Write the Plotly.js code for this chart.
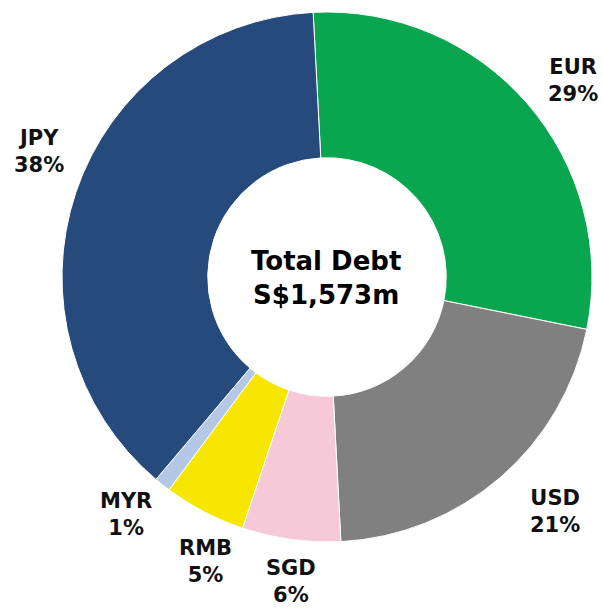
<!DOCTYPE html>
<html>
<head>
<meta charset="utf-8">
<script src="https://cdn.plot.ly/plotly-3.0.1.min.js"></script>
<style>html,body{margin:0;padding:0;background:#fff;}#chart{width:603px;height:609px;}</style>
</head>
<body>
<div id="chart"></div>
<script>
const currencies = ["EUR", "USD", "SGD", "RMB", "MYR", "JPY"];
const shares = [29, 21, 6, 5, 1, 38];
const sliceColors = ["#0aa64f", "#808080", "#f6c9d9", "#f7e600", "#b4c7e4", "#264a7b"];
const centerLines = ["Total Debt", "S$1,573m"];

const labelPos = {
  EUR: [573, 80], USD: [555, 511], SGD: [291, 581],
  RMB: [205, 561], MYR: [126, 514], JPY: [39, 151]
};
const W = 603, H = 609;
const font = "'DejaVu Sans', sans-serif";

const annotations = currencies.map((c, i) => ({
  x: labelPos[c][0] / W, y: 1 - labelPos[c][1] / H,
  xref: "paper", yref: "paper", showarrow: false,
  text: "<b>" + c + "<br>" + shares[i] + "%</b>",
  font: {family: font, size: 21, color: "#111"},
  align: "center", xanchor: "center", yanchor: "middle"
}));
annotations.push({
  x: 326 / W, y: 1 - 278 / H, xref: "paper", yref: "paper", showarrow: false,
  text: "<b>" + centerLines.join("<br>") + "</b>",
  font: {family: font, size: 26, color: "#000"},
  align: "center", xanchor: "center", yanchor: "middle"
});

Plotly.newPlot("chart", [{
  type: "pie",
  labels: currencies,
  values: shares,
  marker: {colors: sliceColors, line: {color: "#fff", width: 1}},
  hole: 0.45,
  sort: false,
  direction: "clockwise",
  rotation: -3,
  textinfo: "none",
  hoverinfo: "label+percent",
  domain: {x: [62 / W, 592 / W], y: [(332 - 265) / H, (332 + 265) / H]}
}], {
  width: W, height: H,
  margin: {l: 0, r: 0, t: 0, b: 0},
  showlegend: false,
  paper_bgcolor: "#fff",
  annotations: annotations
}, {staticPlot: true});
</script>
</body>
</html>
